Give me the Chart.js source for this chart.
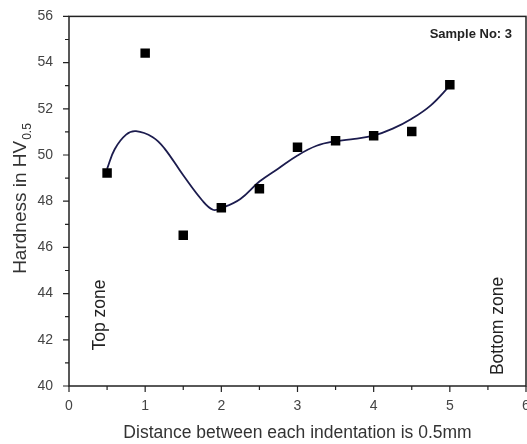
<!DOCTYPE html>
<html>
<head>
<meta charset="utf-8">
<script src="https://cdn.jsdelivr.net/npm/chart.js@4.4.1/dist/chart.umd.min.js"></script>
<style>
  html, body { margin: 0; padding: 0; background: #fff; overflow: hidden; }
  #wrap { width: 527px; height: 444px; }
  canvas { display: block; }
</style>
</head>
<body>
<div id="wrap"><canvas id="hardnessChart" width="527" height="444"></canvas></div>
<script>
// measured points (Sample No: 3)
const distances = [0.5, 1.0, 1.5, 2.0, 2.5, 3.0, 3.5, 4.0, 4.5, 5.0];
const hardness = [49.22, 54.41, 46.53, 47.72, 48.54, 50.34, 50.62, 50.83, 51.02, 53.04];

// fitted curve
const fitX = [0.5, 0.6, 0.75, 0.88, 1.1, 1.25, 1.5, 1.75, 1.89, 2.0, 2.25, 2.5, 2.75, 3.0, 3.25, 3.5, 3.75, 4.0, 4.25, 4.5, 4.75, 5.0];
const fitY = [49.4, 50.25, 50.88, 51.03, 50.77, 50.3, 49.12, 48.03, 47.63, 47.7, 48.1, 48.85, 49.42, 49.98, 50.4, 50.6, 50.7, 50.84, 51.14, 51.57, 52.15, 53.0];

const xTicks = [0, 1, 2, 3, 4, 5, 6];
const yTicks = [40, 42, 44, 46, 48, 50, 52, 54, 56];

const axisColor = '#222';
const labelColor = '#444';
const FONT = '"Liberation Sans", Arial, sans-serif';

// frame, tick marks, x tick labels and text labels
const decorPlugin = {
    id: 'decor',
    afterDraw(chart) {
        const { ctx, chartArea: a, scales: { x, y } } = chart;
        ctx.save();
        ctx.strokeStyle = axisColor;
        ctx.lineWidth = 1.5;
        ctx.strokeRect(a.left, a.top, a.right - a.left, a.bottom - a.top);

        ctx.lineWidth = 1.2;
        ctx.beginPath();
        for (let v = 0; v <= 6; v += 0.5) {
            const px = x.getPixelForValue(v);
            const len = Number.isInteger(v) ? 6 : 4;
            ctx.moveTo(px, a.bottom);
            ctx.lineTo(px, a.bottom + len);
        }
        for (let v = 40; v <= 56; v += 1) {
            const py = y.getPixelForValue(v);
            const len = v % 2 === 0 ? 6 : 4;
            ctx.moveTo(a.left, py);
            ctx.lineTo(a.left - len, py);
        }
        ctx.stroke();

        ctx.fillStyle = labelColor;
        ctx.font = '14px ' + FONT;
        ctx.textAlign = 'center';
        ctx.textBaseline = 'top';
        xTicks.forEach(v => {
            ctx.fillText(String(v), x.getPixelForValue(v), a.bottom + 13);
        });

        // sample label
        ctx.fillStyle = '#222';
        ctx.font = 'bold 13px ' + FONT;
        ctx.textAlign = 'right';
        ctx.textBaseline = 'middle';
        ctx.fillText('Sample No: 3', 512, 34);

        // zone labels
        ctx.font = '17.5px ' + FONT;
        ctx.fillStyle = '#222';
        ctx.textAlign = 'center';
        ctx.save();
        ctx.translate(100, 315);
        ctx.rotate(-Math.PI / 2);
        ctx.fillText('Top zone', 0, 0);
        ctx.restore();
        ctx.save();
        ctx.translate(498, 326);
        ctx.rotate(-Math.PI / 2);
        ctx.fillText('Bottom zone', 0, 0);
        ctx.restore();

        // y title with subscript
        ctx.save();
        ctx.translate(21, 199);
        ctx.rotate(-Math.PI / 2);
        ctx.fillStyle = '#333';
        const main = 'Hardness in HV';
        ctx.font = '19px ' + FONT;
        const w1 = ctx.measureText(main).width;
        ctx.font = '12px ' + FONT;
        const w2 = ctx.measureText('0.5').width;
        const start = -(w1 + w2) / 2;
        ctx.textAlign = 'left';
        ctx.font = '19px ' + FONT;
        ctx.fillText(main, start, 0);
        ctx.font = '12px ' + FONT;
        ctx.fillText('0.5', start + w1 + 1, 7);
        ctx.restore();

        // x title
        ctx.fillStyle = '#333';
        ctx.font = '17.5px ' + FONT;
        ctx.textAlign = 'center';
        ctx.textBaseline = 'alphabetic';
        ctx.fillText('Distance between each indentation is 0.5mm', (a.left + a.right) / 2, 438);
        ctx.restore();
    }
};

new Chart(document.getElementById('hardnessChart'), {
    type: 'scatter',
    data: {
        datasets: [
            {
                label: 'Fit',
                type: 'line',
                data: fitX.map((v, i) => ({ x: v, y: fitY[i] })),
                borderColor: '#1c1c4e',
                borderWidth: 1.8,
                pointRadius: 0,
                fill: false,
                tension: 0.4,
                order: 2
            },
            {
                label: 'Hardness',
                data: distances.map((v, i) => ({ x: v, y: hardness[i] })),
                pointStyle: 'rect',
                pointRadius: 6.7,
                backgroundColor: '#000',
                borderColor: '#000',
                borderWidth: 0,
                order: 1
            }
        ]
    },
    options: {
        responsive: false,
        animation: false,
        layout: { autoPadding: false, padding: { left: 0, top: 16, right: 1, bottom: 0 } },
        plugins: { legend: { display: false }, tooltip: { enabled: false } },
        scales: {
            x: {
                type: 'linear',
                min: 0,
                max: 6,
                afterBuildTicks: (s) => { s.ticks = xTicks.map(v => ({ value: v })); },
                afterFit: (s) => { s.height = 58; },
                grid: { display: false },
                border: { display: false },
                ticks: { display: false }
            },
            y: {
                type: 'linear',
                min: 40,
                max: 56,
                afterBuildTicks: (s) => { s.ticks = yTicks.map(v => ({ value: v })); },
                afterFit: (s) => { s.width = 69; },
                grid: { display: false },
                border: { display: false },
                ticks: { color: labelColor, padding: 8, font: { size: 14, family: FONT } }
            }
        }
    },
    plugins: [decorPlugin]
});
</script>
</body>
</html>
